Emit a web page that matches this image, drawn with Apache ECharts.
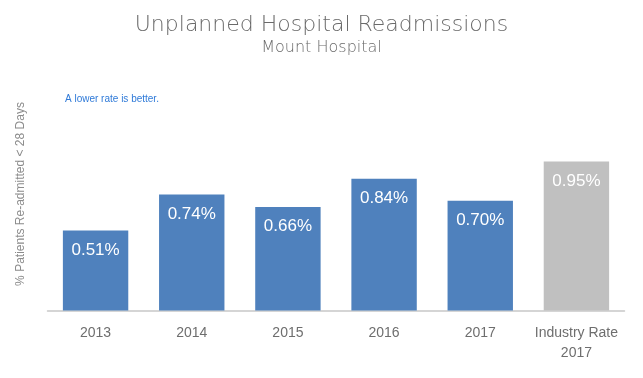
<!DOCTYPE html>
<html>
<head>
<meta charset="utf-8">
<script src="https://cdn.jsdelivr.net/npm/echarts@6/dist/echarts.min.js"></script>
<style>html,body{margin:0;padding:0;background:#fff;}#c{width:643px;height:378px;}</style>
</head>
<body>
<div id="c"></div>
<script>
var categories = ['2013', '2014', '2015', '2016', '2017', 'Industry Rate\n2017'];
var values = [0.51, 0.74, 0.66, 0.84, 0.70, 0.95];
var barColors = ['#4f81bd', '#4f81bd', '#4f81bd', '#4f81bd', '#4f81bd', '#c0c0c0'];
var titleText = 'Unplanned Hospital Readmissions';
var subtitleText = 'Mount Hospital';
var yAxisName = '% Patients Re-admitted < 28 Days';
var noteText = 'A lower rate is better.';

var chart = echarts.init(document.getElementById('c'), null, {renderer: 'canvas'});
chart.setOption({
  animation: false,
  backgroundColor: '#fff',
  title: {
    text: titleText,
    subtext: subtitleText,
    left: 'center',
    top: 9,
    itemGap: 4,
    textStyle: {fontFamily: 'DejaVu Sans', fontWeight: 200, fontSize: 22, color: '#6a6a6a'},
    subtextStyle: {fontFamily: 'DejaVu Sans', fontWeight: 200, fontSize: 16, color: '#6a6a6a'}
  },
  graphic: [
    {type: 'text', x: 21, y: 194, rotation: Math.PI / 2,
     style: {text: yAxisName, fontFamily: 'Liberation Sans', fontSize: 12, fill: '#8c8c8c', textAlign: 'center', textVerticalAlign: 'middle'}},
    {type: 'text', left: 65, top: 94,
     style: {text: noteText, fontFamily: 'Liberation Sans', fontSize: 10, fill: '#2f7ad8'}}
  ],
  grid: {left: 47.5, right: 18.5, top: 153.7, bottom: 67.5, containLabel: false},
  xAxis: {
    type: 'category',
    data: categories,
    axisLine: {lineStyle: {color: '#c8c8c8', width: 1.5}},
    axisTick: {show: false},
    axisLabel: {interval: 0, fontFamily: 'Liberation Sans', fontSize: 14, color: '#6e6e6e', margin: 13, lineHeight: 20}
  },
  yAxis: {
    type: 'value', min: 0, max: 1.0,
    show: false,
    splitLine: {show: false}
  },
  series: [{
    type: 'bar',
    barCategoryGap: '32%',
    data: values.map(function (v, i) { return {value: v, itemStyle: {color: barColors[i]}}; }),
    label: {
      show: true, position: 'insideTop', distance: 11,
      formatter: function (p) { return p.value.toFixed(2) + '%'; },
      fontFamily: 'Liberation Sans', fontSize: 17, color: '#ffffff'
    }
  }]
});
</script>
</body>
</html>
